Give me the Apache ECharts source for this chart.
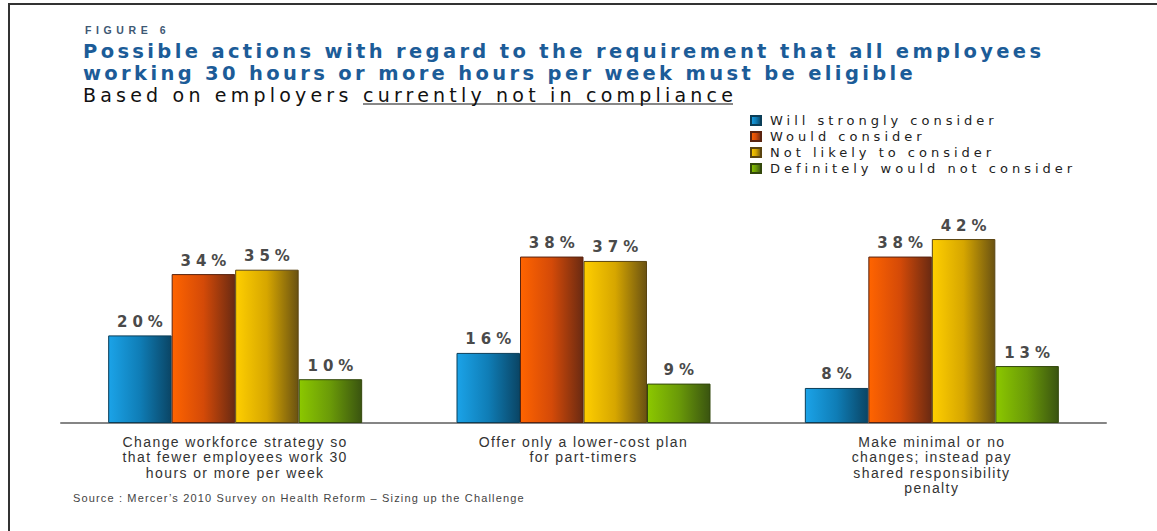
<!DOCTYPE html>
<html>
<head>
<meta charset="utf-8">
<script src="https://cdn.jsdelivr.net/npm/echarts@6/dist/echarts.min.js"></script>
<style>
  html, body { margin: 0; padding: 0; background: #fff; }
  #chart { width: 1157px; height: 531px; }
  /* wide tracking of the report typography, keyed on each text's size */
  #chart text[style*="19.5px"] { letter-spacing: 3.35px; }
  #chart text[style*="19px"]   { letter-spacing: 4.2px; }
  #chart text[style*="10.5px"] { letter-spacing: 4.6px; }
  #chart text[style*="13px"]   { letter-spacing: 4px; }
  #chart text[style*="14px"]   { letter-spacing: 1.4px; }
  #chart text[style*="15px"]   { letter-spacing: 5px; }
  #chart text[style*="11px"]   { letter-spacing: 1.15px; }
</style>
</head>
<body>
<div id="chart"></div>
<script>
// Survey answers per proposed action (percent of employers)
const categories = [
  'Change workforce strategy so\nthat fewer employees work 30\nhours or more per week',
  'Offer only a lower-cost plan\nfor part-timers',
  'Make minimal or no\nchanges; instead pay\nshared responsibility\npenalty'
];
const seriesNames = [
  'Will strongly consider',
  'Would consider',
  'Not likely to consider',
  'Definitely would not consider'
];
const willStronglyConsider = [20, 16, 8];
const wouldConsider = [34, 38, 38];
const notLikelyToConsider = [35, 37, 42];
const definitelyWouldNot = [10, 9, 13];

const SANS = 'Liberation Sans, Arial, sans-serif';
const WIDE = 'DejaVu Sans, Verdana, sans-serif';

function shade(stops) {
  return new echarts.graphic.LinearGradient(0, 0, 1, 0,
    stops.map((c, i) => ({ offset: i / (stops.length - 1), color: c })));
}

const palettes = [
  { fill: shade(['#1ba3e8', '#0f7db6', '#0a4565']), border: '#0b3e58' },
  { fill: shade(['#ff6400', '#d44a08', '#6a2a12']), border: '#5a2410' },
  { fill: shade(['#ffcf00', '#d6a600', '#6a5212']), border: '#5a4410' },
  { fill: shade(['#8cc800', '#6a9a08', '#3a5410']), border: '#33480c' }
];

const values = [willStronglyConsider, wouldConsider, notLikelyToConsider, definitelyWouldNot];

const series = values.map((data, i) => ({
  name: seriesNames[i],
  type: 'bar',
  data: data,
  barWidth: 63.5,
  barGap: '0%',
  itemStyle: {
    color: palettes[i].fill,
    borderColor: palettes[i].border,
    borderWidth: 1
  },
  label: {
    show: true,
    position: 'top',
    distance: 6,
    offset: [2.5, 0],
    formatter: '{c}%',
    fontFamily: WIDE,
    fontSize: 15,
    fontWeight: 'bold',
    color: '#4a4a4a'
  }
}));

const chart = echarts.init(document.getElementById('chart'), null, { renderer: 'svg' });

chart.setOption({
  backgroundColor: '#ffffff',
  animation: false,
  title: {
    text: 'Possible actions with regard to the requirement that all employees\nworking 30 hours or more hours per week must be eligible',
    left: 83,
    top: 40,
    padding: 0,
    textStyle: {
      fontFamily: WIDE,
      fontSize: 19.5,
      fontWeight: 'bold',
      color: '#1c5c98',
      lineHeight: 22
    }
  },
  legend: {
    orient: 'vertical',
    left: 750,
    top: 114,
    padding: 0,
    itemWidth: 10,
    itemHeight: 9,
    itemGap: 3,
    icon: 'rect',
    data: seriesNames,
    textStyle: {
      fontFamily: WIDE,
      fontSize: 13,
      lineHeight: 13,
      color: '#222',
      padding: [0, 0, 0, 4]
    }
  },
  grid: { left: 61, right: 51, top: 204, bottom: 108 },
  xAxis: {
    type: 'category',
    data: categories,
    axisLine: { lineStyle: { color: '#858585', width: 2 } },
    axisTick: { show: false },
    axisLabel: {
      interval: 0,
      margin: 11,
      fontFamily: SANS,
      fontSize: 14,
      lineHeight: 15.5,
      color: '#333'
    }
  },
  yAxis: {
    type: 'value',
    min: 0,
    max: 50,
    show: false
  },
  graphic: [
    {
      type: 'polyline',
      shape: { points: [[9, 531], [9, 4], [1157, 4]] },
      style: { stroke: '#333', lineWidth: 2, fill: null }
    },
    {
      type: 'text',
      x: 85, y: 30,
      style: {
        text: 'FIGURE 6',
        fontFamily: SANS, fontSize: 10.5, fontWeight: 'bold',
        fill: '#3e5873', verticalAlign: 'middle'
      }
    },
    {
      type: 'text',
      x: 83, y: 95,
      style: {
        text: 'Based on employers',
        fontFamily: WIDE, fontSize: 19,
        fill: '#111', verticalAlign: 'middle'
      }
    },
    {
      type: 'text',
      x: 363, y: 95,
      style: {
        text: 'currently not in compliance',
        fontFamily: WIDE, fontSize: 19,
        fill: '#111', verticalAlign: 'middle'
      }
    },
    {
      type: 'line',
      shape: { x1: 363, y1: 104, x2: 733, y2: 104 },
      style: { stroke: '#111', lineWidth: 1 }
    },
    {
      type: 'text',
      x: 73, y: 498,
      style: {
        text: 'Source : Mercer\u2019s 2010 Survey on Health Reform \u2013 Sizing up the Challenge',
        fontFamily: SANS, fontSize: 11,
        fill: '#444', verticalAlign: 'middle'
      }
    }
  ],
  series: series
});
</script>
</body>
</html>
